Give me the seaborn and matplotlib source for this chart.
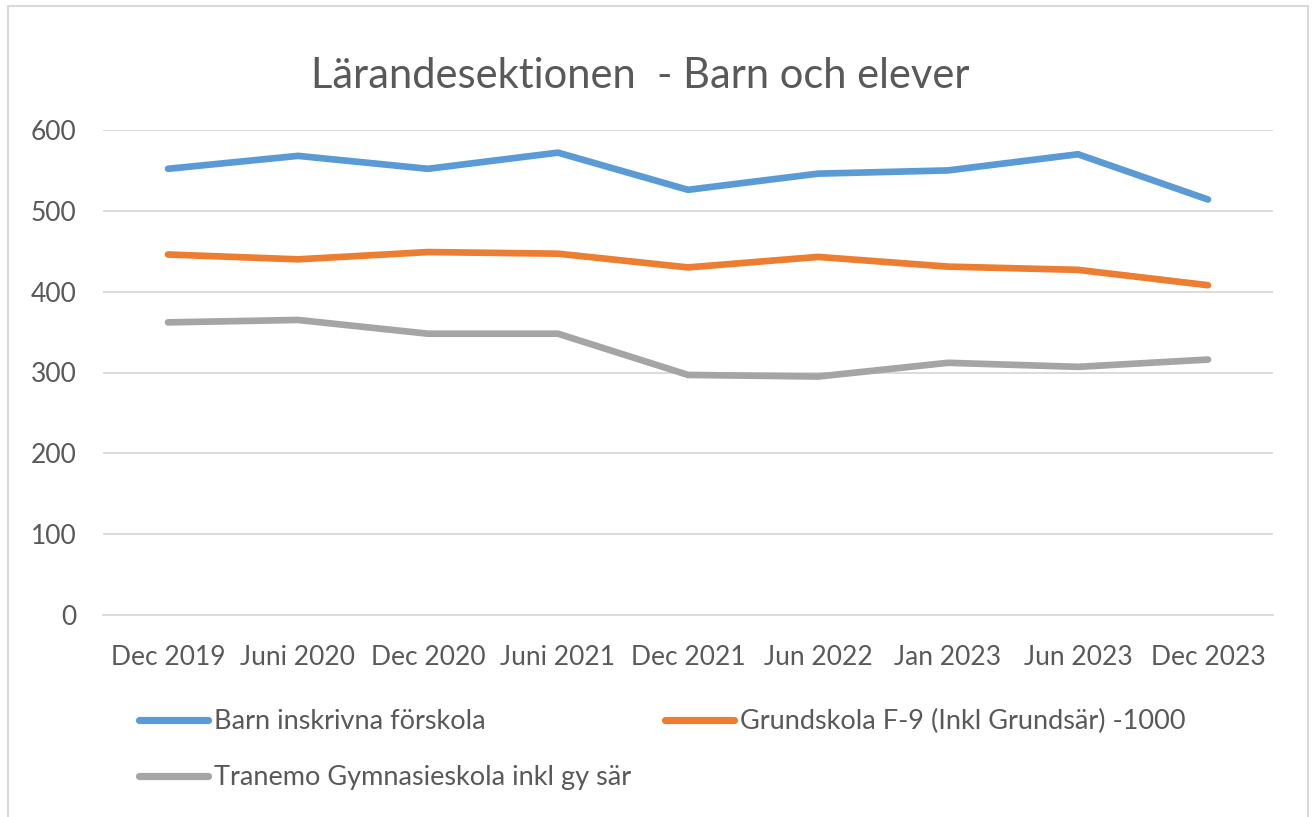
import matplotlib
matplotlib.use("Agg")
import matplotlib.pyplot as plt
from matplotlib.lines import Line2D
from matplotlib.patches import Rectangle
import pandas as pd
import seaborn as sns

# Survey dates (category axis)
periods = ["Dec 2019", "Juni 2020", "Dec 2020", "Juni 2021", "Dec 2021",
           "Jun 2022", "Jan 2023", "Jun 2023", "Dec 2023"]

# Series names as shown in the legend
series_names = ["Barn inskrivna förskola",
                "Grundskola F-9 (Inkl Grundsär) -1000",
                "Tranemo Gymnasieskola inkl gy sär"]

# Number of children / pupils per period
forskola = [552, 568, 552, 572, 526, 546, 550, 570, 514]
grundskola = [446, 440, 449, 447, 430, 443, 431, 427, 408]
gymnasie = [362, 365, 348, 348, 297, 295, 312, 307, 316]

y_ticks = [0, 100, 200, 300, 400, 500, 600]

colors = ["#5B9BD5", "#ED7D31", "#A5A5A5"]
text_color = "#595959"
grid_color = "#D9D9D9"

frames = []
for name, vals in zip(series_names, [forskola, grundskola, gymnasie]):
    frames.append(pd.DataFrame({"period": periods, "value": vals, "series": name}))
df = pd.concat(frames, ignore_index=True)

sns.set_theme(style="white")
plt.rcParams["font.family"] = ["Lato", "DejaVu Sans"]

fig = plt.figure(figsize=(13.15, 8.17), dpi=100)
ax = fig.add_axes([103 / 1315, 1 - 615 / 817, (1273 - 103) / 1315, (615 - 130) / 817])

palette = dict(zip(series_names, colors))
sns.lineplot(data=df, x="period", y="value", hue="series", palette=palette,
             sort=False, linewidth=4.8, ax=ax, legend=False,
             solid_capstyle="round", solid_joinstyle="round")

ax.set_xlim(-0.5, len(periods) - 0.5)
ax.set_ylim(0, 600)
ax.set_yticks(y_ticks)
ax.set_yticklabels([str(v) for v in y_ticks])
ax.set_xlabel("")
ax.set_ylabel("")
ax.grid(axis="y", color=grid_color, linewidth=1.3)
ax.grid(axis="x", visible=False)
ax.set_axisbelow(True)
for side in ["top", "right", "left"]:
    ax.spines[side].set_visible(False)
ax.spines["bottom"].set_color(grid_color)
ax.spines["bottom"].set_linewidth(1.3)
ax.tick_params(axis="both", length=0, labelsize=19, colors=text_color)
ax.tick_params(axis="y", pad=19)
ax.tick_params(axis="x", pad=21.5)

fig.text(640 / 1315, 1 - 76 / 817, "Lärandesektionen  - Barn och elever",
         ha="center", va="center", fontsize=30, color=text_color)

# Legend laid out row-wise: column one holds the first and third series
order = [0, 2, 1]
handles = [Line2D([0], [0], color=colors[i], linewidth=5.2, solid_capstyle="round")
           for i in order]
labels = [series_names[i] for i in order]
fig.legend(handles, labels, ncol=2, loc="upper left",
           bbox_to_anchor=(139 / 1315, 1 - 709 / 817), frameon=False,
           fontsize=19.5, labelcolor=text_color, handlelength=2.55,
           handletextpad=0.22, columnspacing=1.25, labelspacing=1.15,
           borderaxespad=0, borderpad=0)

# Chart frame
fig.patches.append(Rectangle((8 / 1315, -0.01), 1300 / 1315, 1 - 6 / 817 + 0.01,
                             transform=fig.transFigure, fill=False,
                             edgecolor=grid_color, linewidth=1.5))

fig.savefig("out.png", dpi=100)
